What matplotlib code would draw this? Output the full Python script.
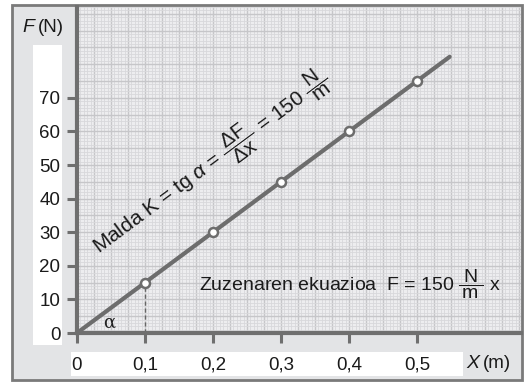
import numpy as np
import matplotlib
matplotlib.use("Agg")
import matplotlib.pyplot as plt
from matplotlib.patches import Rectangle, Arc

plt.rcParams['font.family'] = ['Liberation Sans', 'DejaVu Sans']
plt.rcParams['mathtext.fontset'] = 'custom'
plt.rcParams['mathtext.rm'] = 'Liberation Sans'
plt.rcParams['mathtext.it'] = 'Liberation Sans:italic'
plt.rcParams['mathtext.sf'] = 'Liberation Sans'

# data
x_points = [0.1, 0.2, 0.3, 0.4, 0.5]
k = 150
line_x = [0.0, 0.548]
x_ticks = [0, 0.1, 0.2, 0.3, 0.4, 0.5]
x_ticklabels = ['0', '0,1', '0,2', '0,3', '0,4', '0,5']
y_ticks = [0, 10, 20, 30, 40, 50, 60, 70]
y_ticklabels = ['0', '10', '20', '30', '40', '50', '60', '70']

W, H = 526, 383
fig = plt.figure(figsize=(W/100, H/100), dpi=100)
fig.patch.set_facecolor('white')

def fr(x0, y0, x1, y1):
    # pixel box (top-left origin) -> figure fraction rect
    return (x0/W, 1 - y1/H, (x1-x0)/W, (y1-y0)/H)

# outer frame
x0, y0, w, h = fr(12, 5, 522, 380)
fig.patches.append(Rectangle((x0, y0), w, h, transform=fig.transFigure,
                             facecolor='#e3e4e6', edgecolor='#7a7a7a', lw=2, zorder=-2))
# white label boxes
for box in [(33, 45, 62, 345), (71, 352, 463, 376)]:
    a, b, c, d = fr(*box)
    fig.patches.append(Rectangle((a, b), c, d, transform=fig.transFigure,
                                 facecolor='white', edgecolor='none', zorder=-1))

px_x = 680.0   # pixels per unit x
px_y = 3.36    # pixels per unit y
ax = fig.add_axes(fr(77, 7, 521, 333))
ax.set_zorder(2)
ax.set_xlim(0, (521-77)/px_x)
ax.set_ylim(0, (333-7)/px_y)
ax.set_facecolor('#ededef')

# graph-paper grid
xmax = ax.get_xlim()[1]; ymax = ax.get_ylim()[1]
for xv in np.arange(0, xmax, 0.005):
    major = abs(xv/0.025 - round(xv/0.025)) < 1e-6
    ax.axvline(xv, color='#c6c6c9' if major else '#d8d8db', lw=1.0 if major else 0.6, zorder=1)
for yv in np.arange(0, ymax, 1.0):
    major = (round(yv) % 5 == 0)
    ax.axhline(yv, color='#c6c6c9' if major else '#d8d8db', lw=1.0 if major else 0.6, zorder=1)

for s in ['top', 'right']:
    ax.spines[s].set_visible(False)
for s in ['left', 'bottom']:
    ax.spines[s].set_color('#6f6f6f')
    ax.spines[s].set_linewidth(3)
    ax.spines[s].set_zorder(5)

ax.set_xticks(x_ticks)
ax.set_xticklabels(x_ticklabels)
ax.set_yticks(y_ticks)
ax.set_yticklabels(y_ticklabels)
ax.tick_params(axis='both', length=7, width=2.2, color='#6f6f6f', labelsize=13.5, labelcolor='#1a1a1a')
ax.tick_params(axis='x', pad=10)
ax.tick_params(axis='y', pad=5)

# main line and points
ax.plot(line_x, [k*v for v in line_x], color='#6d6d6d', lw=3, solid_capstyle='round', zorder=4)
ax.plot(x_points, [k*v for v in x_points], 'o', ms=6.5, mfc='white', mec='#6d6d6d', mew=1.8, zorder=6)

# dashed helper
ax.plot([0.1, 0.1], [0, k*0.1], color='#666666', lw=1, ls=(0, (3, 2)), zorder=3)

# angle arc
r_px = 49
ang = np.degrees(np.arctan(k*px_y/px_x))
ax.add_patch(Arc((0, 0), 2*r_px/px_x, 2*r_px/px_y, theta1=0, theta2=ang,
                 color='#555555', lw=0.9, zorder=3))
ax.text(0.047, 0.3, 'α', fontsize=13, family='DejaVu Serif', color='#222222',
        ha='center', va='bottom', zorder=7)

# axis labels
fig.text(22/W, 1-27/H, 'F', fontsize=14, style='italic', ha='left', va='center', color='#1a1a1a', zorder=5)
fig.text(38/W, 1-27/H, '(N)', fontsize=13.5, ha='left', va='center', color='#1a1a1a', zorder=5)
fig.text(466/W, 1-364/H, 'X', fontsize=14, style='italic', ha='left', va='center', color='#1a1a1a', zorder=5)
fig.text(483/W, 1-364/H, '(m)', fontsize=13.5, ha='left', va='center', color='#1a1a1a', zorder=5)

# rotated slope text
ax.text(0.198, 50.5,
        r'Malda K = tg $\alpha$ = $\dfrac{\;\Delta\mathrm{F}\;}{\;\Delta\mathrm{x}\;}$ = 150 $\dfrac{\;\mathrm{N}\;}{\mathrm{m}}$',
        rotation=ang, rotation_mode='anchor', fontsize=15, ha='center', va='center',
        color='#1a1a1a', zorder=7)

# equation text
ax.text(0.18, 14.5, r'Zuzenaren ekuazioa  F = 150 $\dfrac{\;\mathrm{N}\;}{\mathrm{m}}$ x',
        fontsize=14, ha='left', va='center', color='#1a1a1a', zorder=7)

fig.savefig('out.png', dpi=100, facecolor='white')
